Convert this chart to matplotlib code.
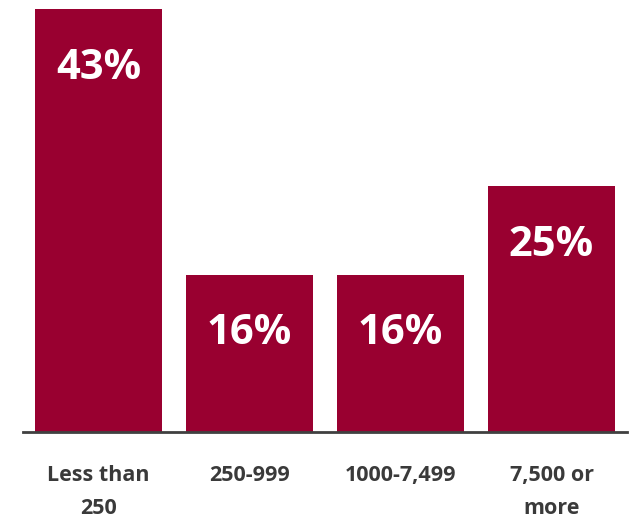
import matplotlib.pyplot as plt

categories = ["Less than\n250", "250-999", "1000-7,499", "7,500 or\nmore"]
values = [43, 16, 16, 25]

plt.rcParams["font.family"] = ["Open Sans", "DejaVu Sans"]

fig = plt.figure(figsize=(6.36, 5.22), dpi=100)
ax = fig.add_axes([23 / 636, 90 / 522, 604 / 636, 423 / 522])

x = range(len(values))
ax.bar(x, values, width=0.84, color="#990030")

for i, v in enumerate(values):
    ax.text(i, v - 6.0, f"{v}%", ha="center", va="center",
            color="white", fontsize=30, fontweight="bold")

ax.set_xlim(-0.5, 3.5)
ax.set_ylim(0, 43)
ax.set_yticks([])
ax.set_xticks(list(x))
ax.set_xticklabels(categories, fontsize=15.5, fontweight="bold",
                   color="#3a3a3a", linespacing=1.7)
ax.tick_params(axis="x", length=0, pad=24)
for s in ["top", "right", "left"]:
    ax.spines[s].set_visible(False)
ax.spines["bottom"].set_color("#404040")
ax.spines["bottom"].set_linewidth(2)

fig.savefig("out.png", dpi=100)
